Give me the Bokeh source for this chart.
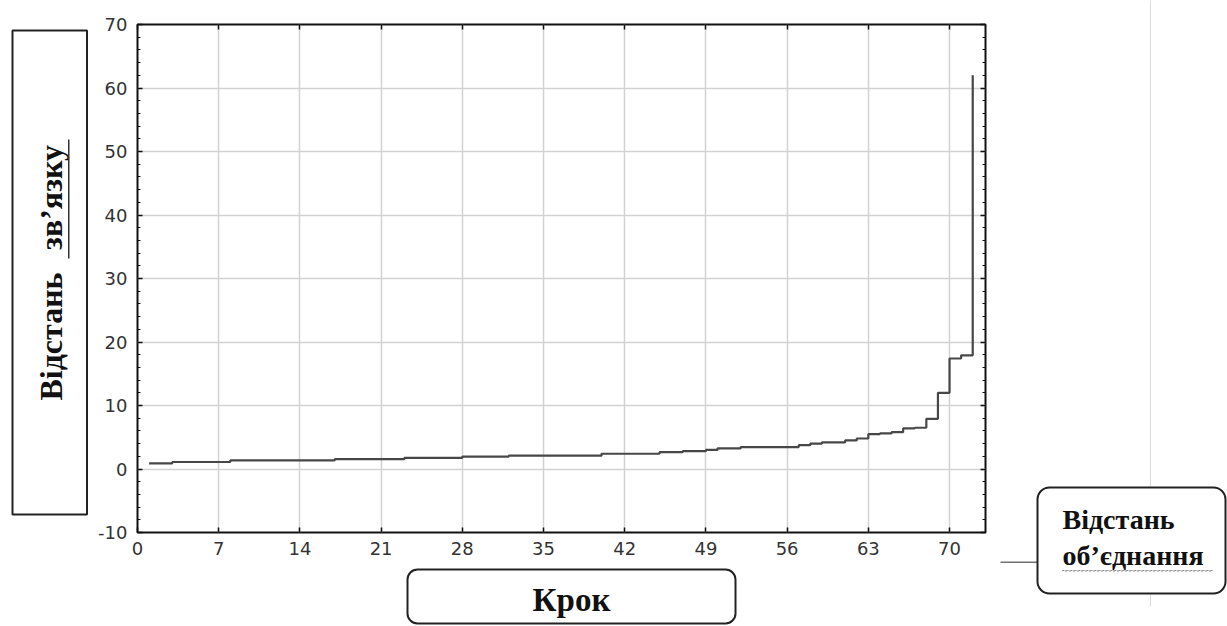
from math import pi

from bokeh.plotting import figure
from bokeh.layouts import row, column
from bokeh.models import (Range1d, FixedTicker, SingleIntervalTicker, LinearAxis,
                          Label, BoxAnnotation)
from bokeh.embed import file_html
from bokeh.resources import INLINE

# ---------------- data ----------------
steps = list(range(1, 73))
linkage_distance = [
    0.9, 0.9,                                   # 1-2
    1.1, 1.1, 1.1, 1.1, 1.1,                    # 3-7
    1.35, 1.35, 1.35, 1.35, 1.35, 1.35, 1.35, 1.35, 1.35,  # 8-16
    1.55, 1.55, 1.55, 1.55, 1.55, 1.55,         # 17-22
    1.75, 1.75, 1.75, 1.75, 1.75,               # 23-27
    1.95, 1.95, 1.95, 1.95,                     # 28-31
    2.1, 2.1, 2.1, 2.1, 2.1, 2.1, 2.1, 2.1,     # 32-39
    2.4, 2.4, 2.4, 2.4, 2.4,                    # 40-44
    2.65, 2.65,                                 # 45-46
    2.8, 2.8,                                   # 47-48
    3.0,                                        # 49
    3.25, 3.25,                                 # 50-51
    3.45, 3.45, 3.45, 3.45, 3.45,               # 52-56
    3.75, 4.0,                                  # 57-58
    4.2, 4.2,                                   # 59-60
    4.5, 4.8,                                   # 61-62
    5.5, 5.6, 5.8,                              # 63-65
    6.4, 6.5,                                   # 66-67
    7.9, 12.0, 17.4, 17.9, 62.0,                # 68-72
]

x_ticks = [0, 7, 14, 21, 28, 35, 42, 49, 56, 63, 70]
y_ticks = [-10, 0, 10, 20, 30, 40, 50, 60, 70]

y_title_1 = "Відстань"
y_title_2 = "зв’язку"
x_title = "Крок"
side_title_1 = "Відстань"
side_title_2 = "об’єднання"

# ---------------- layout constants (canvas pixels) ----------------
W, H = 1227, 626
LEFT_W = 88            # left strip with the y-title box
MAIN_W = 907           # chart figure width
MAIN_H = 562           # chart figure height
RIGHT_W = W - LEFT_W - MAIN_W
BOTTOM_H = H - MAIN_H
FL, FR, FT, FB = 137, 985, 24, 532   # chart frame edges on the canvas

SERIF = "Liberation Serif"

# ---------------- main chart ----------------
p = figure(width=MAIN_W, height=MAIN_H, output_backend="svg", toolbar_location=None,
           x_range=Range1d(0, 73.1), y_range=Range1d(-10, 70),
           min_border_left=FL - LEFT_W, min_border_right=LEFT_W + MAIN_W - FR,
           min_border_top=FT, min_border_bottom=MAIN_H - FB)

p.background_fill_color = "white"
p.border_fill_color = "white"
p.outline_line_color = "#111111"
p.outline_line_width = 2

p.xgrid.ticker = FixedTicker(ticks=x_ticks)
p.ygrid.ticker = FixedTicker(ticks=y_ticks)
for g in (p.xgrid, p.ygrid):
    g.grid_line_color = "#d2d2d2"
    g.grid_line_width = 1.5


def style_axis(ax, labels=True):
    ax.axis_line_color = None
    ax.major_tick_in = 5
    ax.major_tick_out = 0
    ax.minor_tick_in = 3
    ax.minor_tick_out = 0
    ax.major_tick_line_color = "#111111"
    ax.minor_tick_line_color = "#111111"
    ax.major_tick_line_width = 1.5
    ax.major_label_text_font = "DejaVu Sans"
    if labels:
        ax.major_label_text_font_size = "18px"
        ax.major_label_text_color = "#333333"
        ax.major_label_standoff = 9
    else:
        ax.major_label_text_font_size = "1px"
        ax.major_label_text_color = None
        ax.major_label_standoff = 0


p.xaxis.ticker = FixedTicker(ticks=x_ticks)
p.yaxis.ticker = SingleIntervalTicker(interval=10, num_minor_ticks=5)
style_axis(p.xaxis[0])
style_axis(p.yaxis[0])
p.yaxis[0].major_label_standoff = 10
p.yaxis[0].major_label_overrides = {-10: "-10"}
p.xaxis[0].minor_tick_line_color = None

top_ax = LinearAxis(ticker=FixedTicker(ticks=x_ticks))
style_axis(top_ax, labels=False)
top_ax.minor_tick_line_color = None
p.add_layout(top_ax, "above")

right_ax = LinearAxis(ticker=SingleIntervalTicker(interval=10, num_minor_ticks=5))
style_axis(right_ax, labels=False)
p.add_layout(right_ax, "right")

p.step(x=steps, y=linkage_distance, mode="after", line_width=2.2, line_color="#474747")


# ---------------- decoration strips ----------------
def strip(width, height):
    f = figure(width=width, height=height, output_backend="svg", toolbar_location=None,
               x_range=Range1d(0, width), y_range=Range1d(0, height),
               x_axis_location=None, y_axis_location=None, min_border=0)
    f.grid.visible = False
    f.outline_line_color = None
    f.background_fill_color = "white"
    f.border_fill_color = "white"
    return f


def add_box(f, x0, y0, l, t, r, b, radius=0, lw=2, color="#222222"):
    h = f.height
    f.add_layout(BoxAnnotation(left=l - x0, right=r - x0, top=h - (t - y0), bottom=h - (b - y0),
                               left_units="screen", right_units="screen",
                               top_units="screen", bottom_units="screen",
                               fill_color="white", fill_alpha=1,
                               line_color=color, line_alpha=1, line_width=lw,
                               border_radius=radius))


def add_bar(f, x0, y0, l, t, r, b, color):
    h = f.height
    f.add_layout(BoxAnnotation(left=l - x0, right=r - x0, top=h - (t - y0), bottom=h - (b - y0),
                               left_units="screen", right_units="screen",
                               top_units="screen", bottom_units="screen",
                               fill_color=color, fill_alpha=1, line_color=None))


def add_label(f, x0, y0, text, cx, cy, size, align="center", angle=0):
    h = f.height
    f.add_layout(Label(x=cx - x0, y=h - (cy - y0), x_units="screen", y_units="screen",
                       text=text, angle=angle, text_align=align, text_baseline="middle",
                       text_font=SERIF, text_font_style="bold",
                       text_font_size=size, text_color="#111111"))


# left strip: y-axis title
left = strip(LEFT_W, H)
add_box(left, 0, 0, 12, 30, 86.5, 514)
add_label(left, 0, 0, y_title_1, 50, 336, "32px", angle=pi / 2)
add_label(left, 0, 0, y_title_2, 50, 197, "32px", angle=pi / 2)
add_bar(left, 0, 0, 67.5, 139, 69, 258, "#333333")

# bottom strip: x-axis title (its frame lines up with the chart frame)
bottom = strip(MAIN_W, BOTTOM_H)
bx0, by0 = FL, MAIN_H
add_box(bottom, bx0, by0, 407, 569, 735, 623, radius=10)
add_label(bottom, bx0, by0, x_title, 571, 599, "33px")

# right strip: side note
right = strip(RIGHT_W, H)
rx0 = LEFT_W + MAIN_W
add_bar(right, rx0, 0, 1149.5, 0, 1150.5, 606, "#dcdcdc")
add_bar(right, rx0, 0, 1000, 561, 1037, 562.5, "#707070")
add_box(right, rx0, 0, 1037, 487, 1225, 593, radius=12)
add_label(right, rx0, 0, side_title_1, 1062, 519, "28px", align="left")
add_label(right, rx0, 0, side_title_2, 1062, 555, "28px", align="left")
right.add_layout(BoxAnnotation(left=1062 - rx0, right=1212 - rx0,
                               top=H - 570, bottom=H - 570.5,
                               left_units="screen", right_units="screen",
                               top_units="screen", bottom_units="screen",
                               fill_color=None, line_color="#8a8a8a", line_alpha=1,
                               line_width=1, line_dash="2 2"))

layout = row(left, column(p, bottom), right)

open("out.html", "w").write(file_html(layout, INLINE))
